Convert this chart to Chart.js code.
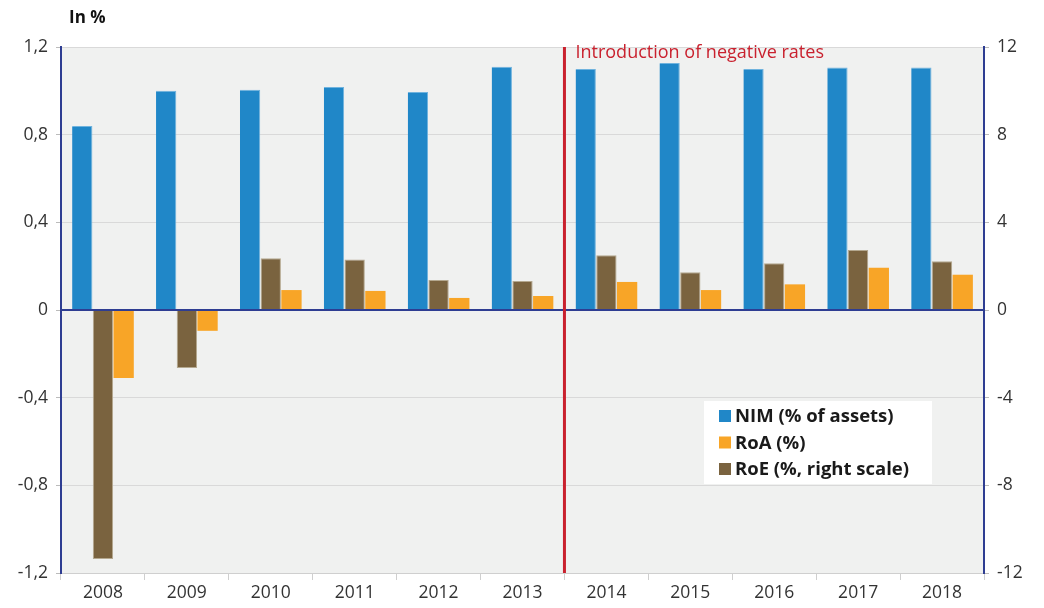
<!DOCTYPE html>
<html>
<head>
<meta charset="utf-8">
<script src="https://cdn.jsdelivr.net/npm/chart.js@4"></script>
<style>
html,body{margin:0;padding:0;background:#fff;}
#wrap{width:1044px;height:608px;position:relative;}
</style>
</head>
<body>
<div id="wrap"><canvas id="c" width="1044" height="608"></canvas></div>
<script>
const years = ['2008','2009','2010','2011','2012','2013','2014','2015','2016','2017','2018'];
const nim = [0.84, 1.00, 1.005, 1.017, 0.995, 1.11, 1.10, 1.127, 1.10, 1.107, 1.107];
const roe = [-11.36, -2.65, 2.36, 2.3, 1.37, 1.32, 2.5, 1.72, 2.13, 2.74, 2.22];
const roa = [-0.31, -0.095, 0.091, 0.087, 0.055, 0.064, 0.128, 0.091, 0.117, 0.193, 0.161];
const leftTicks = [-1.2, -0.8, -0.4, 0, 0.4, 0.8, 1.2];
const rightTicks = [-12, -8, -4, 0, 4, 8, 12];
const markerIndex = 6; // first year with negative rates
const markerLabel = 'Introduction of negative rates';
const yLabel = 'In %';

const FONT = "'Open Sans', 'Liberation Sans', sans-serif";
const C_NIM = '#2087c8', C_ROA = '#f8a527', C_ROE = '#7a633f';
const AXIS_BLUE = '#2e3d92';

const bgPlugin = {
  id: 'bg',
  beforeDraw(chart) {
    const {ctx, chartArea: a} = chart;
    ctx.save();
    ctx.fillStyle = '#f0f1f0';
    ctx.fillRect(a.left, a.top, a.right - a.left, a.bottom - a.top);
    ctx.restore();
  },
  afterDatasetsDraw(chart) {
    const {ctx, chartArea: a, scales} = chart;
    const y0 = scales.y.getPixelForValue(0);
    ctx.save();
    ctx.strokeStyle = AXIS_BLUE;
    ctx.lineWidth = 2;
    ctx.beginPath(); ctx.moveTo(a.left, y0); ctx.lineTo(a.right, y0); ctx.stroke();
    const xs = scales.x;
    const xm = (xs.getPixelForValue(markerIndex - 1) + xs.getPixelForValue(markerIndex)) / 2;
    ctx.strokeStyle = '#c9212e';
    ctx.lineWidth = 3;
    ctx.beginPath(); ctx.moveTo(xm, a.top); ctx.lineTo(xm, a.bottom); ctx.stroke();
    ctx.fillStyle = '#c9212e';
    ctx.font = "18px " + FONT;
    ctx.textBaseline = 'middle';
    ctx.textAlign = 'left';
    ctx.fillText(markerLabel, xm + 11, a.top + 6);
    ctx.fillStyle = '#111';
    ctx.font = "bold 17px " + FONT;
    ctx.fillText(yLabel, 69, 18);
    const items = [['NIM (% of assets)', C_NIM], ['RoA (%)', C_ROA], ['RoE (%, right scale)', C_ROE]];
    const lx = 704, ly = 401;
    ctx.fillStyle = '#ffffff';
    ctx.fillRect(lx, ly, 228, 83);
    ctx.font = "bold 18.5px " + FONT;
    items.forEach((it, i) => {
      const cy = ly + 15 + i * 26.5;
      ctx.fillStyle = it[1];
      ctx.fillRect(lx + 15, cy - 6, 12, 12);
      ctx.fillStyle = '#1a1a1a';
      ctx.fillText(it[0], lx + 31, cy + 1);
    });
    ctx.restore();
  }
};

const fmt = v => String(Math.round(v * 10) / 10).replace('.', ',');

new Chart(document.getElementById('c'), {
  type: 'bar',
  data: {
    labels: years,
    datasets: [
      {label: 'NIM (% of assets)', data: nim, backgroundColor: C_NIM, yAxisID: 'y', borderColor: '#6fb3de', borderWidth: {top: 1, left: 0, right: 1, bottom: 0}},
      {label: 'RoE (%, right scale)', data: roe, backgroundColor: C_ROE, yAxisID: 'y2', borderColor: '#b4a88f', borderWidth: 1},
      {label: 'RoA (%)', data: roa, backgroundColor: C_ROA, yAxisID: 'y', borderWidth: 0}
    ]
  },
  options: {
    responsive: false,
    animation: false,
    devicePixelRatio: 1,
    categoryPercentage: 0.74,
    barPercentage: 0.98,
    layout: {padding: {top: 47, bottom: 0, left: 0, right: 0}},
    plugins: {legend: {display: false}, tooltip: {enabled: false}},
    scales: {
      x: {
        offset: true,
        grid: {display: true, drawOnChartArea: false, offset: true, tickLength: 7, color: '#cfcfcf', lineWidth: 1},
        border: {display: true, color: '#cfcfcf', width: 1},
        ticks: {color: '#333', font: {family: FONT, size: 17.5}, padding: 3, maxRotation: 0},
        afterFit(s) { s.height = 35; }
      },
      y: {
        position: 'left',
        min: -1.2, max: 1.2,
        afterBuildTicks(s) { s.ticks = leftTicks.map(v => ({value: v})); },
        ticks: {color: '#333', font: {family: FONT, size: 17.5}, padding: 8, callback: v => fmt(v)},
        grid: {color: ctx => ctx.tick && ctx.tick.value === 0 ? 'rgba(0,0,0,0)' : '#d9d9d9', tickLength: 5, tickColor: '#bbb', lineWidth: 1},
        border: {display: true, color: AXIS_BLUE, width: 2},
        afterFit(s) { s.width = 61; }
      },
      y2: {
        position: 'right',
        min: -12, max: 12,
        afterBuildTicks(s) { s.ticks = rightTicks.map(v => ({value: v})); },
        ticks: {color: '#333', font: {family: FONT, size: 17.5}, padding: 8},
        grid: {drawOnChartArea: false, tickLength: 5, tickColor: '#bbb'},
        border: {display: true, color: AXIS_BLUE, width: 2},
        afterFit(s) { s.width = 60; }
      }
    }
  },
  plugins: [bgPlugin]
});
</script>
</body>
</html>
